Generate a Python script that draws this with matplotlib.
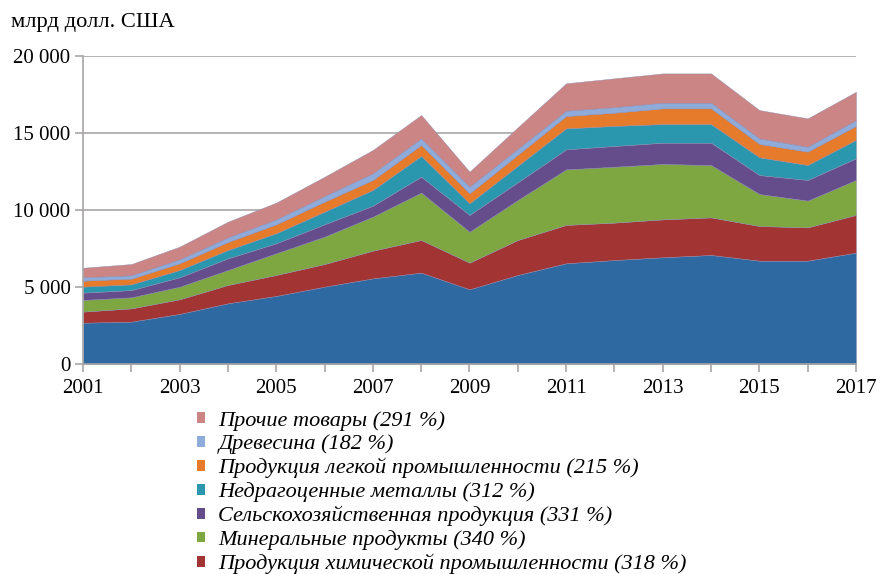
import matplotlib
matplotlib.use("Agg")
import matplotlib.pyplot as plt
from matplotlib.patches import Patch
import numpy as np

years = list(range(2001, 2018))

machinery = [2680, 2750, 3250, 3940, 4420, 5020, 5560, 5930, 4850, 5780, 6540, 6750, 6930, 7080, 6710, 6710, 7230]
chemical = [720, 860, 950, 1190, 1360, 1470, 1800, 2120, 1730, 2270, 2490, 2430, 2460, 2440, 2250, 2160, 2450]
mineral = [760, 720, 820, 970, 1410, 1780, 2210, 3080, 2010, 2600, 3610, 3630, 3600, 3400, 2080, 1740, 2270]
agri = [470, 470, 610, 760, 650, 800, 710, 1030, 1090, 1150, 1300, 1350, 1380, 1450, 1230, 1340, 1410]
metals = [390, 370, 470, 540, 650, 820, 1020, 1350, 750, 1070, 1360, 1300, 1210, 1210, 1150, 970, 1190]
light_ind = [390, 370, 440, 520, 580, 650, 650, 710, 650, 720, 800, 860, 1020, 1020, 870, 870, 910]
wood = [220, 220, 260, 300, 320, 370, 430, 430, 440, 390, 350, 360, 370, 370, 360, 320, 380]
other = [620, 730, 820, 1020, 1090, 1250, 1520, 1520, 970, 1390, 1780, 1870, 1900, 1900, 1840, 1840, 1840]

series = [machinery, chemical, mineral, agri, metals, light_ind, wood, other]
colors = ["#2e69a2", "#a33434", "#7ea741", "#654d8c", "#2a97ae", "#e77b2c", "#8eabda", "#cb8585"]
labels = [None,
          "Продукция химической промышленности (318 %)",
          "Минеральные продукты (340 %)",
          "Сельскохозяйственная продукция (331 %)",
          "Недрагоценные металлы (312 %)",
          "Продукция легкой промышленности (215 %)",
          "Древесина (182 %)",
          "Прочие товары (291 %)"]

yticks = [0, 5000, 10000, 15000, 20000]
ytick_labels = ["0", "5 000", "10 000", "15 000", "20 000"]

serif = ["Liberation Serif", "DejaVu Serif"]

fig = plt.figure(figsize=(8.82, 5.74), dpi=100)
ax = fig.add_axes([0.0941, 0.3659, 0.8764, 0.5365])

ax.stackplot(years, *series, colors=colors, linewidth=0.3, edgecolors="#8a8ab0", zorder=2)

ax.set_xlim(2001, 2017)
ax.set_ylim(0, 20000)
ax.set_yticks(yticks)
ax.set_yticklabels(ytick_labels, fontfamily=serif, fontsize=15)
ax.set_xticks(years)
ax.set_xticklabels([str(y) if (y - 2001) % 2 == 0 else "" for y in years], fontfamily=serif, fontsize=15)
ax.grid(axis="y", color="#a8a5a5", linewidth=1.2, zorder=0)
ax.set_axisbelow(True)
for s in ["top", "right"]:
    ax.spines[s].set_visible(False)
ax.spines["left"].set_color("#a8a5a5")
ax.spines["bottom"].set_color("#a8a5a5")
ax.spines["left"].set_linewidth(1.2)
ax.spines["bottom"].set_linewidth(1.2)
ax.tick_params(axis="both", colors="#a8a5a5", length=6, width=1.2, labelcolor="black")
ax.tick_params(axis="x", pad=5)
ax.tick_params(axis="y", pad=3)

fig.text(0.012, 0.960, "млрд долл. США", fontfamily=serif, fontsize=16.2, va="center", ha="left")

handles = [Patch(facecolor=colors[i], edgecolor="none") for i in range(7, 0, -1)]
leg_labels = [labels[i] for i in range(7, 0, -1)]
leg = fig.legend(handles, leg_labels, loc="upper left", bbox_to_anchor=(0.223, 0.284),
                 frameon=False, prop={"family": serif, "style": "italic", "size": 16},
                 handlelength=0.38, handleheight=0.38, handletextpad=0.6, labelspacing=0.17,
                 borderpad=0, borderaxespad=0)

fig.savefig("out.png", dpi=100)
